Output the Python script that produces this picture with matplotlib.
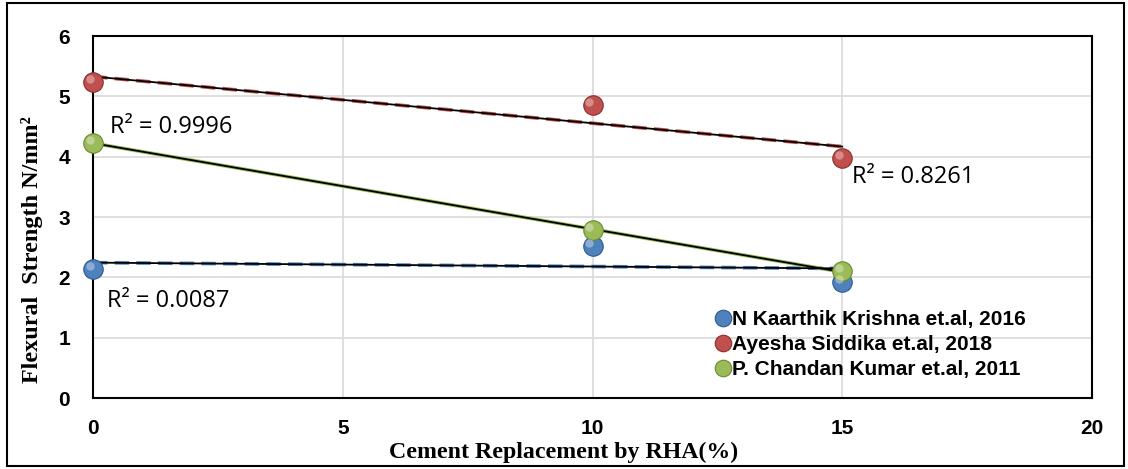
import numpy as np
import matplotlib
matplotlib.use("Agg")
import matplotlib.pyplot as plt
import matplotlib.transforms as mtransforms
from matplotlib.patches import Rectangle

# data
replacement = [0, 10, 15]
krishna = [2.13, 2.52, 1.92]
siddika = [5.23, 4.85, 3.97]
kumar = [4.23, 2.78, 2.10]

names = ["N Kaarthik Krishna et.al, 2016",
         "Ayesha Siddika et.al, 2018",
         "P. Chandan Kumar et.al, 2011"]
r2_labels = ["R² = 0.0087", "R² = 0.8261", "R² = 0.9996"]
colors = ["#4F81BD", "#C0504D", "#9BBB59"]
edges = ["#2C5A8C", "#8C2D2A", "#6B8A30"]
trend_styles = [(0, (4, 2)), (0, (4, 2)), "-"]

fig = plt.figure(figsize=(11.28, 4.69), dpi=100)
ax = fig.add_axes([93/1128, 1-398/469, (1092-93)/1128, (398-36)/469])

# outer chart border
fig.patches.append(Rectangle((7/1128, 3/469), 1117/1128, 463/469, transform=fig.transFigure,
                             fill=False, edgecolor="black", linewidth=1.5))

hl = mtransforms.offset_copy(ax.transData, fig=fig, x=-2.2, y=2.2, units="points")
x = np.array(replacement, dtype=float)
handles = []
for ys, c, ec, ls in zip([krishna, siddika, kumar], colors, edges, trend_styles):
    ys = np.array(ys)
    k, b = np.polyfit(x, ys, 1)
    xt = np.array([0, 15])
    ax.plot(xt, k*xt + b, color=c, lw=2.6, linestyle=ls, zorder=3)
    ax.plot(xt, k*xt + b, color="black", lw=1.3, zorder=4)
for ys, c, ec in zip([krishna, siddika, kumar], colors, edges):
    h, = ax.plot(x, ys, "o", ms=14, color=c, mec=ec, mew=0.8, zorder=5, clip_on=False)
    ax.plot(x, ys, "o", ms=6, color="white", alpha=0.35, mew=0, zorder=6,
            transform=hl, clip_on=False)
    handles.append(h)

ax.text(0.28, 1.6, r2_labels[0], fontsize=17, family="Open Sans", va="center")
ax.text(15.2, 3.66, r2_labels[1], fontsize=17, family="Open Sans", va="center")
ax.text(0.34, 4.49, r2_labels[2], fontsize=17, family="Open Sans", va="center")

ax.set_xlim(0, 20)
ax.set_ylim(0, 6)
ax.set_xticks([0, 5, 10, 15, 20])
ax.set_yticks(range(7))
ax.grid(True, color="#D9D9D9", lw=1.2)
ax.set_axisbelow(True)
for s in ax.spines.values():
    s.set_linewidth(1.5)
ax.tick_params(length=0, labelsize=15)
ax.tick_params(axis="y", pad=16.5)
ax.tick_params(axis="x", pad=15)
for lab in ax.get_xticklabels() + ax.get_yticklabels():
    lab.set_family("Liberation Sans")
    lab.set_fontweight("bold")

ax.set_xlabel("Cement Replacement by RHA(%)", family="Liberation Serif",
              fontweight="bold", fontsize=17.2)
ax.xaxis.set_label_coords(0.471, -0.122)
ax.set_ylabel("Flexural  Strength N/mm²", family="Liberation Serif",
              fontweight="bold", fontsize=17.4)
ax.yaxis.set_label_coords(-0.05, 0.41)

leg = ax.legend(handles, names, loc="upper left", bbox_to_anchor=(0.614, 0.272),
                frameon=False, handlelength=0.6, handletextpad=0.15,
                labelspacing=0.3, borderpad=0, markerscale=0.85,
                prop={"family": "Liberation Sans", "weight": "bold", "size": 15})

fig.savefig("out.png", dpi=100)
